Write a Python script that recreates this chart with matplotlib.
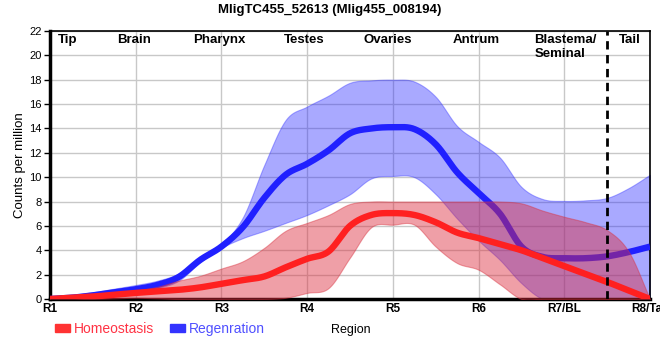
import numpy as np
import matplotlib
matplotlib.use("Agg")
import matplotlib.pyplot as plt
from matplotlib.patches import Rectangle

plt.rcParams['font.family'] = ['Liberation Sans', 'DejaVu Sans']

# ---------------- data ----------------
title = "MligTC455_52613 (Mlig455_008194)"
tick_labels = ["R1", "R2", "R3", "R4", "R5", "R6", "R7/BL", "R8/Tail"]
region_names = ["Tip", "Brain", "Pharynx", "Testes", "Ovaries", "Antrum",
                "Blastema/\nSeminal", "Tail"]
series_names = ["Homeostasis", "Regenration"]

# sample positions (quarter steps between R1..R8)
pos = [1.0, 1.25, 1.5, 1.75, 2.0, 2.25, 2.5, 2.75, 3.0, 3.25, 3.5, 3.75,
       4.0, 4.25, 4.5, 4.75, 5.0, 5.25, 5.5, 5.75, 6.0, 6.25, 6.5, 6.75,
       7.0, 7.25, 7.5, 7.75, 8.0]

regen_mean = [0.0, 0.1, 0.3, 0.55, 0.8, 1.15, 1.8, 3.2, 4.3, 5.9, 8.3, 10.2,
              11.1, 12.2, 13.6, 14.0, 14.1, 13.95, 12.7, 10.4, 8.7, 7.0, 4.3,
              3.45, 3.35, 3.35, 3.5, 3.85, 4.3]
regen_upper = [0.2, 0.35, 0.55, 0.85, 1.15, 1.5, 2.1, 3.4, 4.5, 6.7, 11.0,
               14.7, 15.8, 16.7, 17.75, 17.95, 18.0, 17.85, 16.6, 14.2, 12.9,
               11.6, 9.2, 8.2, 8.05, 8.1, 8.3, 9.1, 10.2]
regen_lower = [-0.2, 0.0, 0.15, 0.35, 0.55, 0.9, 1.5, 3.0, 4.2, 5.0, 5.6,
               6.25, 6.9, 7.7, 8.6, 9.9, 10.1, 10.0, 8.6, 6.6, 4.8, 3.2, 1.3,
               0.0, 0.0, 0.0, 0.0, 0.0, 0.0]

home_mean = [0.0, 0.1, 0.2, 0.35, 0.5, 0.62, 0.75, 0.95, 1.25, 1.55, 1.85,
             2.6, 3.3, 3.9, 6.0, 6.9, 7.05, 6.9, 6.3, 5.45, 5.0, 4.5, 4.0,
             3.35, 2.7, 2.05, 1.4, 0.7, 0.0]
home_upper = [0.2, 0.3, 0.4, 0.55, 0.7, 1.0, 1.5, 1.9, 2.5, 3.1, 4.2, 5.6,
              6.25, 6.9, 7.8, 8.0, 8.0, 8.0, 8.0, 8.0, 8.0, 8.0, 7.85, 7.25,
              6.75, 6.3, 5.65, 3.9, 0.0]
home_lower = [-0.2, -0.1, 0.0, 0.05, 0.1, 0.05, 0.0, 0.0, 0.0, 0.0, 0.0,
              0.1, 0.5, 0.9, 3.4, 5.9, 6.1, 6.1, 4.3, 2.95, 2.4, 1.2, 0.0,
              0.0, 0.0, 0.0, 0.0, 0.0, 0.0]

boundary = 7.5  # blastema / tail separator


# ------------- smooth curve rendering (Catmull-Rom style) -------------
def smooth(x, y, n=700):
    x = np.asarray(x, float)
    y = np.asarray(y, float)
    h = np.diff(x)
    m = np.zeros_like(y)
    m[1:-1] = (y[2:] - y[:-2]) / (x[2:] - x[:-2])
    m[0] = (y[1] - y[0]) / h[0]
    m[-1] = (y[-1] - y[-2]) / h[-1]
    xs = np.linspace(x[0], x[-1], n)
    idx = np.clip(np.searchsorted(x, xs) - 1, 0, len(x) - 2)
    t = (xs - x[idx]) / h[idx]
    h00 = 2 * t**3 - 3 * t**2 + 1
    h10 = t**3 - 2 * t**2 + t
    h01 = -2 * t**3 + 3 * t**2
    h11 = t**3 - t**2
    ys = (h00 * y[idx] + h10 * h[idx] * m[idx] + h01 * y[idx + 1]
          + h11 * h[idx] * m[idx + 1])
    return xs, ys


W, H = 660, 360
fig = plt.figure(figsize=(W / 100, H / 100), dpi=100)
ax = fig.add_axes([50 / W, 1 - 299 / H, 600 / W, 268 / H])

red_line = '#ff2020'
blue_line = '#2020ff'
red_fill = '#dc2b3c'
blue_fill = '#2a2aff'

# regeneration
xs, lo = smooth(pos, regen_lower)
_, hi = smooth(pos, regen_upper)
ax.fill_between(xs, lo, hi, color=blue_fill, alpha=0.40, lw=0.8,
                edgecolor=(0.2, 0.2, 1.0, 0.5), zorder=2)
xs, mn = smooth(pos, regen_mean)
ax.plot(xs, mn, color=blue_line, lw=4.6, solid_capstyle='butt', zorder=3)

# homeostasis
xs, lo = smooth(pos, home_lower)
_, hi = smooth(pos, home_upper)
ax.fill_between(xs, lo, hi, color=red_fill, alpha=0.45, lw=0.8,
                edgecolor=(0.85, 0.2, 0.25, 0.5), zorder=4)
xs, mn = smooth(pos, home_mean)
ax.plot(xs, mn, color=red_line, lw=4.6, solid_capstyle='butt', zorder=5)

ax.axvline(boundary, color='black', lw=2, linestyle=(0, (3, 2)), zorder=6)

ax.set_xlim(1, 8)
ax.set_ylim(0, 22)
ax.set_xticks(range(1, len(tick_labels) + 1))
ax.set_xticklabels(tick_labels, fontweight='bold', fontsize=8.5)
ax.set_yticks(range(0, 23, 2))
ax.tick_params(axis='y', labelsize=8, length=4, width=1, pad=2)
ax.tick_params(axis='x', length=0, pad=3)
ax.grid(True, color='#c8c8c8', lw=1, zorder=0)
ax.set_axisbelow(True)
for s in ['top', 'right']:
    ax.spines[s].set_linewidth(1.2)
for s in ['left', 'bottom']:
    ax.spines[s].set_linewidth(2.5)

ax.set_ylabel("Counts per million", fontsize=9.5)
ax.yaxis.set_label_coords(-24 / 600, 0.5)

# region labels
region_x = [1.21, 1.98, 2.98, 3.96, 4.94, 5.97, 6.65, 7.77]
region_ha = ['center'] * 6 + ['left', 'center']
for name, x, ha in zip(region_names, region_x, region_ha):
    ax.text(x, 21.75, name, ha=ha, va='top', fontsize=9.5, fontweight='bold',
            linespacing=1.2, zorder=7, multialignment='left')

fig.text(330 / W, 1 - 10 / H, title, ha='center', va='center',
         fontsize=9.5, fontweight='bold')

# legend
fig.add_artist(Rectangle((55 / W, 1 - 332 / H), 15 / W, 8 / H,
                         transform=fig.transFigure, color='#ff3333'))
fig.text(74 / W, 1 - 329 / H, series_names[0], ha='left', va='center',
         fontsize=10, color='#ff3344')
fig.add_artist(Rectangle((170 / W, 1 - 332 / H), 15 / W, 8 / H,
                         transform=fig.transFigure, color='#3333ff'))
fig.text(189 / W, 1 - 329 / H, series_names[1], ha='left', va='center',
         fontsize=10, color='#5050ff')
fig.text(331 / W, 1 - 330 / H, "Region", ha='left', va='center', fontsize=9)

fig.savefig("out.png", dpi=100)
